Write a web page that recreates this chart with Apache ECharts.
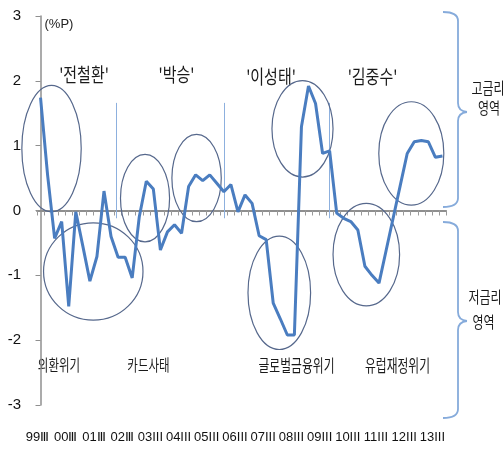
<!DOCTYPE html>
<html>
<head>
<meta charset="utf-8">
<script src="https://cdn.jsdelivr.net/npm/echarts@6/dist/echarts.min.js"></script>
<style>html,body{margin:0;padding:0;background:#fff;}#c{width:504px;height:452px;}</style>
</head>
<body>
<div id="c"></div>
<script>
// ---- data ----
const categories = [
 '99Ⅲ','99Ⅳ',
 '00Ⅰ','00Ⅱ','00Ⅲ','00Ⅳ',
 '01Ⅰ','01Ⅱ','01Ⅲ','01Ⅳ',
 '02Ⅰ','02Ⅱ','02Ⅲ','02Ⅳ',
 '03I','03II','03III','03IV',
 '04I','04II','04III','04IV',
 '05I','05II','05III','05IV',
 '06I','06II','06III','06IV',
 '07I','07II','07III','07IV',
 '08I','08II','08III','08IV',
 '09I','09II','09III','09IV',
 '10I','10II','10III','10IV',
 '11I','11II','11III','11IV',
 '12I','12II','12III','12IV',
 '13I','13II','13III','13IV'
];
const spread = [
 1.74, 0.55, -0.43, -0.17, -1.48, -0.02, -0.55, -1.09, -0.71, 0.30,
 -0.40, -0.72, -0.72, -1.04, -0.10, 0.45, 0.33, -0.61, -0.33, -0.22,
 -0.35, 0.37, 0.55, 0.46, 0.55, 0.42, 0.29, 0.40, -0.02, 0.24,
 0.11, -0.39, -0.45, -1.43, -1.67, -1.92, -1.92, 1.29, 1.92, 1.65,
 0.88, 0.92, -0.04, -0.12, -0.17, -0.30, -0.86, -1.00, -1.12, -0.62,
 -0.12, 0.38, 0.88, 1.06, 1.08, 1.06, 0.82, 0.84
];
const yMin = -3, yMax = 3, yStep = 1;
const labelEvery = 4;

// ---- annotations (data coordinates: category index, value) ----
const ellipses = [
 [1.56, 0.955, 4.21, 0.975],
 [7.48, -0.94, 7.05, 0.75],
 [14.82, 0.19, 3.48, 0.675],
 [22.13, 0.50, 3.50, 0.673],
 [37.15, 1.26, 4.33, 0.744],
 [33.86, -1.27, 4.44, 0.874],
 [46.20, -0.68, 4.72, 0.79],
 [52.58, 0.88, 4.61, 0.797]
];
const termLines = [
 [10.64, 1.66, -0.12],
 [26.0, 1.66, -0.12],
 [40.9, 1.66, -0.12]
];

const chart = echarts.init(document.getElementById('c'), null, {renderer: 'canvas'});

function txt(x, y, t, size, sy, color) {
  return {
    type: 'text', x: x, y: y, scaleY: sy, silent: true,
    style: {
      text: t, fill: color || '#1a1a1a',
      font: size + 'px "Noto Sans CJK KR", sans-serif',
      align: 'center', verticalAlign: 'middle',
      textAlign: 'center', textVerticalAlign: 'middle'
    }
  };
}
const br = {stroke: '#86abdb', lineWidth: 1.8, fill: 'none'};
function bracket(top, mid, bot) {
  return [
    {type: 'bezierCurve', shape: {x1: 443, y1: top, cpx1: 458, cpy1: top, x2: 458, y2: top + 9}, style: br, silent: true},
    {type: 'line', shape: {x1: 458, y1: top + 9, x2: 458, y2: mid - 9}, style: br, silent: true},
    {type: 'bezierCurve', shape: {x1: 458, y1: mid - 9, cpx1: 458, cpy1: mid - 1, x2: 467, y2: mid}, style: br, silent: true},
    {type: 'bezierCurve', shape: {x1: 467, y1: mid, cpx1: 458, cpy1: mid + 1, x2: 458, y2: mid + 9}, style: br, silent: true},
    {type: 'line', shape: {x1: 458, y1: mid + 9, x2: 458, y2: bot - 9}, style: br, silent: true},
    {type: 'bezierCurve', shape: {x1: 458, y1: bot - 9, cpx1: 458, cpy1: bot, x2: 443, y2: bot}, style: br, silent: true}
  ];
}

const option = {
  animation: false,
  grid: {left: 37, right: 58, top: 16, bottom: 47},
  xAxis: [
    {
      type: 'category', data: categories, boundaryGap: true, position: 'bottom',
      axisLine: {show: true, onZero: true, lineStyle: {color: '#8f8f8f', width: 2}},
      axisTick: {show: true, interval: 0, length: 5, lineStyle: {color: '#9a9a9a', width: 1}},
      axisLabel: {show: false}, splitLine: {show: false}
    },
    {
      type: 'category', data: categories, boundaryGap: true, position: 'bottom',
      axisLine: {show: false, onZero: false}, axisTick: {show: false},
      axisLabel: {
        show: true, interval: function (i) { return i % labelEvery === 0; },
        margin: 26, color: '#111', fontSize: 13, padding: [0, 6, 0, 0],
        fontFamily: '"Liberation Sans", sans-serif'
      },
      splitLine: {show: false}
    },
    {type: 'value', min: -0.5, max: categories.length - 0.5, show: false}
  ],
  yAxis: {
    type: 'value', min: yMin, max: yMax, interval: yStep,
    name: '(%P)', nameLocation: 'end', nameGap: -2,
    nameTextStyle: {align: 'left', verticalAlign: 'top', padding: [0, 0, 0, 4], fontSize: 13, color: '#222', fontFamily: '"Liberation Sans", sans-serif'},
    axisLine: {show: true, lineStyle: {color: '#8f8f8f', width: 1.5}},
    axisTick: {show: true, length: 5, lineStyle: {color: '#8f8f8f'}},
    axisLabel: {margin: 16, fontSize: 15, color: '#111', fontFamily: '"Liberation Sans", sans-serif'},
    splitLine: {show: false}
  },
  series: [
    {
      type: 'custom', xAxisIndex: 2, yAxisIndex: 0, silent: true, clip: false,
      encode: {x: 0, y: 1},
      data: ellipses,
      renderItem: function (params, api) {
        const c = api.coord([api.value(0), api.value(1)]);
        const s = api.size([api.value(2), api.value(3)], [api.value(0), api.value(1)]);
        return {type: 'ellipse', shape: {cx: c[0], cy: c[1], rx: s[0], ry: s[1]},
          style: {fill: 'none', stroke: '#56688c', lineWidth: 1.2}};
      },
      z: 3
    },
    {
      type: 'custom', xAxisIndex: 2, yAxisIndex: 0, silent: true, clip: false,
      encode: {x: 0, y: [1, 2]},
      data: termLines,
      renderItem: function (params, api) {
        const a = api.coord([api.value(0), api.value(1)]);
        const b = api.coord([api.value(0), api.value(2)]);
        return {type: 'line', shape: {x1: Math.round(a[0]) + 0.5, y1: a[1], x2: Math.round(a[0]) + 0.5, y2: b[1]},
          style: {stroke: '#8db0de', lineWidth: 1}};
      },
      z: 1
    },
    {
      type: 'line', xAxisIndex: 0, yAxisIndex: 0, data: spread,
      showSymbol: false, symbol: 'none', smooth: false,
      lineStyle: {color: '#4a7dc0', width: 3}, z: 5
    }
  ],
  graphic: [].concat(
    [
      txt(84, 75, "'전철환'", 15, 1.25),
      txt(176.5, 75, "'박승'", 15, 1.25),
      txt(271, 77, "'이성태'", 15, 1.25),
      txt(372.5, 77, "'김중수'", 15, 1.25),
      txt(59, 365, '외환위기', 11.5, 1.4),
      txt(148.5, 365, '카드사태', 11.5, 1.4),
      txt(296.5, 366, '글로벌금융위기', 11.8, 1.4),
      txt(397.5, 366, '유럽재정위기', 11.8, 1.4),
      txt(488, 88, '고금리', 12, 1.35),
      txt(489, 108, '영역', 12, 1.35),
      txt(485, 297, '저금리', 12, 1.35),
      txt(483.5, 322, '영역', 12, 1.35)
    ],
    bracket(12, 112, 207),
    bracket(222, 321, 418)
  )
};
chart.setOption(option);
</script>
</body>
</html>
